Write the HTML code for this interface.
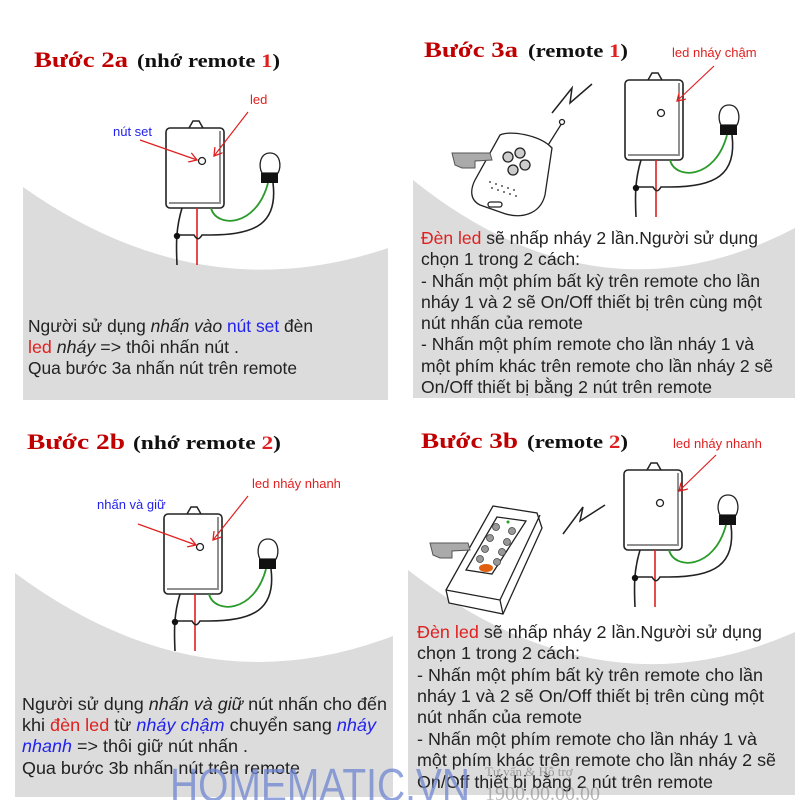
<!DOCTYPE html>
<html><head><meta charset="utf-8"><style>
html,body{margin:0;padding:0;background:#fff;}
svg{display:block;}
.t{font-family:"Liberation Serif",serif;font-weight:bold;}
.b{font-family:"Liberation Sans",sans-serif;fill:#222;}
.r{fill:#e02020;}
.bl{fill:#2222ee;}
</style></head><body>
<svg width="800" height="800" viewBox="0 0 800 800" xmlns="http://www.w3.org/2000/svg">
<defs>
<marker id="ah" markerWidth="10" markerHeight="10" refX="8" refY="5" orient="auto" markerUnits="userSpaceOnUse">
<path d="M0,0 L8,5 L0,10" fill="none" stroke="#e02020" stroke-width="1.3"/>
</marker>
<g id="dev">
<path d="M23,0 L27,-7 L33,-7 L37,0" fill="#fff" stroke="#222" stroke-width="1.5"/>
<rect x="0" y="0" width="58" height="80" rx="4" fill="#fff" stroke="#222" stroke-width="1.6"/>
<path d="M54,3 L54,74 M3,75 L55,75" fill="none" stroke="#222" stroke-width="1"/>
<circle cx="36" cy="33" r="3.5" fill="#fff" stroke="#222" stroke-width="1.3"/>
<path d="M16,80 C10,100 10,115 11,137" fill="none" stroke="#222" stroke-width="1.6"/>
<path d="M31,80 L31,137" stroke="#e02020" stroke-width="1.6"/>
<path d="M45,80 C50,100 90,100 102,55" fill="none" stroke="#2a9a2a" stroke-width="1.8"/>
<path d="M107,55 C112,95 90,107 45,107 L36,107 C33,112 31,112 28,107 L11,107" fill="none" stroke="#222" stroke-width="1.6"/>
<circle cx="11" cy="108" r="3.2" fill="#111"/>
<path d="M96,45 C92,38 94,25 104,25 C114,25 116,38 112,45 Z" fill="#fff" stroke="#222" stroke-width="1.3"/>
<rect x="95" y="45" width="17" height="10" fill="#111"/>
</g>
</defs>

<path d="M23,187 Q200,312 388,248 L388,400 L23,400 Z" fill="#dcdcdc"/>
<path d="M413,180 Q600,330 795,228 L795,398 L413,398 Z" fill="#dcdcdc"/>
<path d="M15,573 Q200,710 393,636 L393,797 L15,797 Z" fill="#dcdcdc"/>
<path d="M408,570 Q600,719 795,632 L795,795 L408,795 Z" fill="#dcdcdc"/>

<!-- Q1 -->
<text x="34" y="67" class="t" font-size="22" fill="#c00000" textLength="94" lengthAdjust="spacingAndGlyphs">Bước 2a</text>
<text x="137" y="67" class="t" font-size="19" fill="#111" textLength="143" lengthAdjust="spacingAndGlyphs">(nhớ remote <tspan fill="#e02020">1</tspan>)</text>
<use href="#dev" x="166" y="128"/>
<text x="250" y="104" class="b r" font-size="13">led</text>
<text x="113" y="136" class="b bl" font-size="13">nút set</text>
<line x1="248" y1="112" x2="214" y2="156" stroke="#e02020" stroke-width="1.2" marker-end="url(#ah)"/>
<line x1="140" y1="140" x2="197" y2="160" stroke="#e02020" stroke-width="1.2" marker-end="url(#ah)"/>
<g class="b" font-size="17.5">
<text x="28" y="332" textLength="285" lengthAdjust="spacingAndGlyphs">Người sử dụng <tspan font-style="italic">nhấn vào</tspan> <tspan class="bl">nút set</tspan> đèn</text>
<text x="28" y="353" textLength="211" lengthAdjust="spacingAndGlyphs"><tspan class="r">led</tspan> <tspan font-style="italic">nháy</tspan>  =&gt; thôi nhấn nút .</text>
<text x="28" y="374" textLength="269" lengthAdjust="spacingAndGlyphs">Qua bước 3a nhấn nút trên remote</text>
</g>

<!-- Q2 -->
<text x="424" y="57" class="t" font-size="22" fill="#c00000" textLength="94" lengthAdjust="spacingAndGlyphs">Bước 3a</text>
<text x="528" y="57" class="t" font-size="19" fill="#111" textLength="100" lengthAdjust="spacingAndGlyphs">(remote <tspan fill="#e02020">1</tspan>)</text>
<text x="672" y="57" class="b r" font-size="13">led nháy chậm</text>
<use href="#dev" x="625" y="80"/>
<line x1="714" y1="66" x2="677" y2="101" stroke="#e02020" stroke-width="1.2" marker-end="url(#ah)"/>
<path d="M552,113 L572,88 L570,103 L592,84" fill="none" stroke="#222" stroke-width="1.5"/>
<g stroke="#222" stroke-width="1.3" fill="#fff">
<line x1="545" y1="150" x2="562" y2="123"/><circle cx="562" cy="122" r="2.5"/>
<path d="M500,135 C510,130 540,135 552,148 L545,195 C540,215 520,220 500,212 L480,205 C470,200 470,190 475,180 Z"/>
<circle cx="508" cy="157" r="5" fill="#ccc"/><circle cx="520" cy="153" r="5" fill="#ccc"/><circle cx="525" cy="165" r="5" fill="#ccc"/><circle cx="513" cy="170" r="5" fill="#ccc"/>
<rect x="488" y="202" width="14" height="5" rx="2.5"/>
</g>
<g fill="#555"><circle cx="490" cy="182" r="1"/><circle cx="496" cy="184" r="1"/><circle cx="502" cy="186" r="1"/><circle cx="508" cy="188" r="1"/><circle cx="514" cy="190" r="1"/><circle cx="492" cy="188" r="1"/><circle cx="498" cy="190" r="1"/><circle cx="504" cy="192" r="1"/><circle cx="510" cy="194" r="1"/><circle cx="516" cy="196" r="1"/></g>
<path d="M452,153 L490,153 L492,160 L475,161 L475,168 L462,168 L455,165 Z" fill="#aaa" stroke="#555" stroke-width="1"/>
<g class="b" font-size="17.5">
<text x="421" y="244" textLength="337" lengthAdjust="spacingAndGlyphs"><tspan class="r">Đèn led</tspan> sẽ nhấp nháy 2 lần.Người sử dụng</text>
<text x="421" y="265" textLength="159" lengthAdjust="spacingAndGlyphs">chọn 1 trong 2 cách:</text>
<text x="421" y="287" textLength="339" lengthAdjust="spacingAndGlyphs">- Nhấn một phím bất kỳ trên remote cho lần</text>
<text x="421" y="308" textLength="341" lengthAdjust="spacingAndGlyphs">nháy 1 và 2 sẽ On/Off thiết bị trên cùng một</text>
<text x="421" y="329" textLength="162" lengthAdjust="spacingAndGlyphs">nút nhấn của remote</text>
<text x="421" y="350" textLength="333" lengthAdjust="spacingAndGlyphs">- Nhấn một phím remote cho lần nháy 1 và</text>
<text x="421" y="372" textLength="352" lengthAdjust="spacingAndGlyphs">một phím khác trên remote cho lần nháy 2 sẽ</text>
<text x="421" y="393" textLength="291" lengthAdjust="spacingAndGlyphs">On/Off thiết bị bằng 2 nút trên remote</text>
</g>

<!-- Q3 -->
<text x="27" y="449" class="t" font-size="22" fill="#c00000" textLength="98" lengthAdjust="spacingAndGlyphs">Bước 2b</text>
<text x="133" y="449" class="t" font-size="19" fill="#111" textLength="148" lengthAdjust="spacingAndGlyphs">(nhớ remote <tspan fill="#e02020">2</tspan>)</text>
<use href="#dev" x="164" y="514"/>
<text x="252" y="488" class="b r" font-size="13">led nháy nhanh</text>
<text x="97" y="509" class="b bl" font-size="13">nhấn và giữ</text>
<line x1="248" y1="496" x2="213" y2="540" stroke="#e02020" stroke-width="1.2" marker-end="url(#ah)"/>
<line x1="138" y1="524" x2="196" y2="545" stroke="#e02020" stroke-width="1.2" marker-end="url(#ah)"/>
<g class="b" font-size="17.5">
<text x="22" y="710" textLength="365" lengthAdjust="spacingAndGlyphs">Người sử dụng <tspan font-style="italic">nhấn và giữ</tspan> nút nhấn cho đến</text>
<text x="22" y="731" textLength="354" lengthAdjust="spacingAndGlyphs">khi <tspan class="r">đèn led</tspan> từ <tspan class="bl" font-style="italic">nháy chậm</tspan> chuyển sang <tspan class="bl" font-style="italic">nháy</tspan></text>
<text x="22" y="752" textLength="226" lengthAdjust="spacingAndGlyphs"><tspan class="bl" font-style="italic">nhanh</tspan> =&gt; thôi giữ nút nhấn .</text>
<text x="22" y="774" textLength="278" lengthAdjust="spacingAndGlyphs">Qua bước 3b nhấn nút trên remote</text>
</g>

<!-- Q4 -->
<text x="421" y="448" class="t" font-size="22" fill="#c00000" textLength="97" lengthAdjust="spacingAndGlyphs">Bước 3b</text>
<text x="527" y="448" class="t" font-size="19" fill="#111" textLength="101" lengthAdjust="spacingAndGlyphs">(remote <tspan fill="#e02020">2</tspan>)</text>
<text x="673" y="448" class="b r" font-size="13">led nháy nhanh</text>
<use href="#dev" x="624" y="470"/>
<line x1="716" y1="455" x2="679" y2="491" stroke="#e02020" stroke-width="1.2" marker-end="url(#ah)"/>
<path d="M563,534 L583,507 L580,521 L605,505" fill="none" stroke="#222" stroke-width="1.5"/>
<g stroke="#222" stroke-width="1.3">
<path d="M493,506 L537,513 L542,528 L503,614 L449,603 L446,590 Z" fill="#fff"/>
<path d="M446,590 L500,600 L503,614 M500,600 L540,515" fill="none"/>
<path d="M497,517 L526,521 L492,574 L466,570 Z" fill="#fff"/>
</g>
<g fill="#999" stroke="#444" stroke-width="0.8">
<circle cx="496" cy="527" r="3.5"/><circle cx="512" cy="531" r="3.5"/>
<circle cx="490" cy="538" r="3.5"/><circle cx="507" cy="542" r="3.5"/>
<circle cx="485" cy="549" r="3.5"/><circle cx="502" cy="552" r="3.5"/>
<circle cx="480" cy="559" r="3.5"/><circle cx="497" cy="562" r="3.5"/>
</g>
<circle cx="508" cy="522" r="1.5" fill="#2a9a2a"/>
<ellipse cx="486" cy="568" rx="7" ry="4" fill="#e06010"/>
<path d="M430,543 L468,543 L470,550 L452,551 L452,558 L440,558 L433,555 Z" fill="#aaa" stroke="#555" stroke-width="1"/>
<g class="b" font-size="17.5">
<text x="417" y="638" textLength="345" lengthAdjust="spacingAndGlyphs"><tspan class="r">Đèn led</tspan> sẽ nhấp nháy 2 lần.Người sử dụng</text>
<text x="417" y="659" textLength="163" lengthAdjust="spacingAndGlyphs">chọn 1 trong 2 cách:</text>
<text x="417" y="681" textLength="346" lengthAdjust="spacingAndGlyphs">- Nhấn một phím bất kỳ trên remote cho lần</text>
<text x="417" y="702" textLength="347" lengthAdjust="spacingAndGlyphs">nháy 1 và 2 sẽ On/Off thiết bị trên cùng một</text>
<text x="417" y="723" textLength="165" lengthAdjust="spacingAndGlyphs">nút nhấn của remote</text>
<text x="417" y="745" textLength="340" lengthAdjust="spacingAndGlyphs">- Nhấn một phím remote cho lần nháy 1 và</text>
<text x="417" y="766" textLength="359" lengthAdjust="spacingAndGlyphs">một phím khác trên remote cho lần nháy 2 sẽ</text>
<text x="417" y="788" textLength="296" lengthAdjust="spacingAndGlyphs">On/Off thiết bị bằng 2 nút trên remote</text>
</g>

<text x="170" y="801" font-family="Liberation Sans,sans-serif" font-size="46" fill="#6f86d0" fill-opacity="0.75" textLength="300" lengthAdjust="spacingAndGlyphs">HOMEMATIC.VN</text>
<text x="485" y="776" font-family="Liberation Serif,serif" font-size="13" fill="#888" fill-opacity="0.8">Tư vấn &amp; Hỗ trợ</text>
<text x="485" y="800" font-family="Liberation Serif,serif" font-size="20" fill="#888" fill-opacity="0.6">1900.00.00.00</text>
</svg>
</body></html>
